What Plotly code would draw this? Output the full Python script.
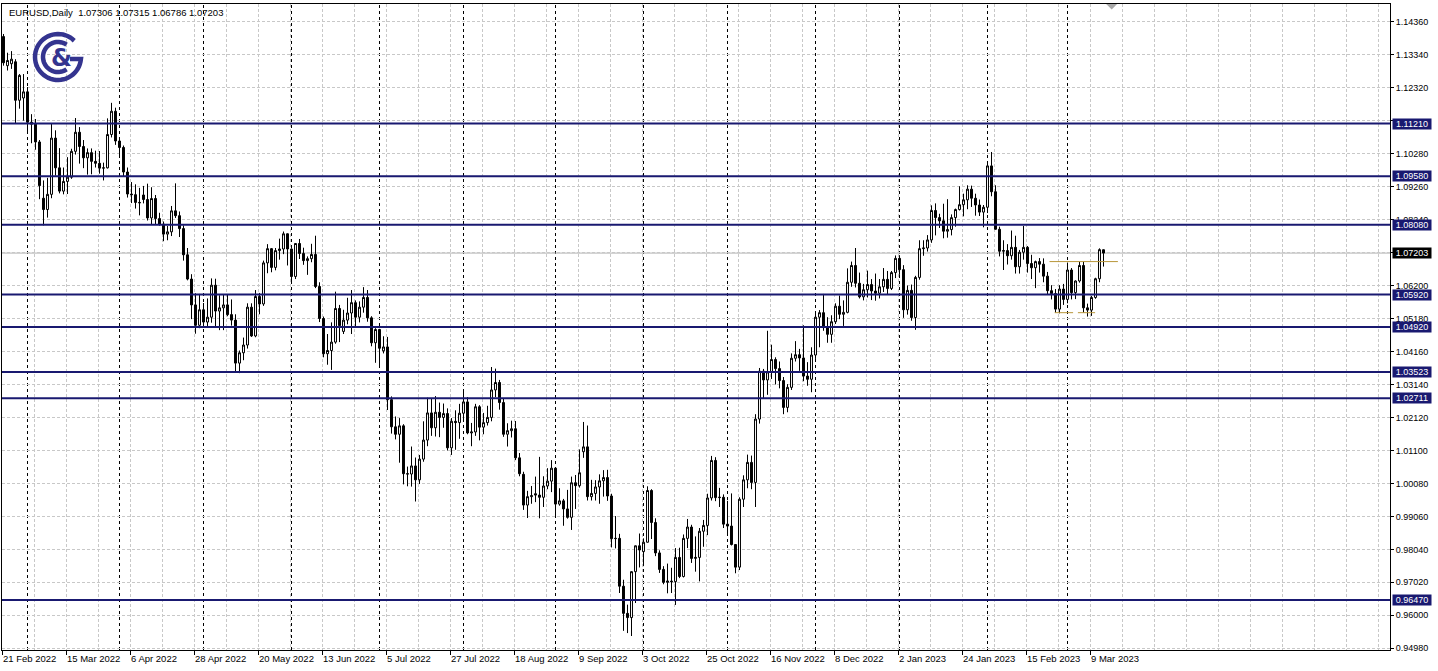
import math
import plotly.graph_objects as go

# ---------------- data ----------------
symbol_header = "EURUSD,Daily\u00a0\u00a01.07306 1.07315 1.06786 1.07203"

opens = [
    1.1390, 1.1300, 1.1306, 1.1312, 1.1193, 1.1200, 1.1219, 1.1125, 1.1119, 1.1064,
    1.0890, 1.0855, 1.0902, 1.1076, 1.0984, 1.0912, 1.0942, 1.0955, 1.1035, 1.1094,
    1.1050, 1.1015, 1.1031, 1.1004, 1.0998, 1.0983, 1.0984, 1.1087, 1.1159, 1.1067,
    1.1047, 1.0971, 1.0903, 1.0901, 1.0877, 1.0900, 1.0886, 1.0829, 1.0889, 1.0827,
    1.0810, 1.0779, 1.0786, 1.0851, 1.0836, 1.0796, 1.0715, 1.0640, 1.0560, 1.0497,
    1.0545, 1.0507, 1.0522, 1.0621, 1.0541, 1.0551, 1.0560, 1.0530, 1.0513, 1.0380,
    1.0412, 1.0436, 1.0553, 1.0464, 1.0586, 1.0563, 1.0690, 1.0734, 1.0676, 1.0728,
    1.0733, 1.0780, 1.0733, 1.0648, 1.0750, 1.0719, 1.0697, 1.0703, 1.0716, 1.0617,
    1.0518, 1.0409, 1.0419, 1.0445, 1.0549, 1.0478, 1.0513, 1.0535, 1.0567, 1.0522,
    1.0553, 1.0583, 1.0520, 1.0443, 1.0484, 1.0418, 1.0430, 1.0267, 1.0183, 1.0160,
    1.0186, 1.0038, 1.0037, 1.0062, 1.0019, 1.0083, 1.0142, 1.0226, 1.0180, 1.0228,
    1.0212, 1.0224, 1.0118, 1.0200, 1.0196, 1.0225, 1.0260, 1.0164, 1.0167, 1.0245,
    1.0182, 1.0196, 1.0212, 1.0297, 1.0320, 1.0258, 1.0160, 1.0171, 1.0177, 1.0087,
    1.0036, 0.9941, 0.9967, 0.9976, 0.9972, 0.9965, 1.0000, 1.0015, 1.0055, 0.9944,
    0.9954, 0.9929, 0.9903, 1.0010, 1.0001, 1.0106, 1.0121, 0.9967, 0.9977, 0.9997,
    1.0016, 1.0026, 0.9969, 0.9837, 0.9838, 0.9690, 0.9606, 0.9593, 0.9735, 0.9815,
    0.9797, 0.9826, 0.9986, 0.9887, 0.9793, 0.9742, 0.9702, 0.9706, 0.9704, 0.9779,
    0.9720, 0.9838, 0.9873, 0.9776, 0.9779, 0.9860, 0.9878, 0.9963, 1.0079, 0.9964,
    0.9965, 0.9882, 0.9876, 0.9819, 0.9749, 0.9959, 1.0019, 1.0073, 1.0011, 1.0207,
    1.0355, 1.0328, 1.0353, 1.0391, 1.0363, 1.0326, 1.0243, 1.0305, 1.0395, 1.0406,
    1.0396, 1.0340, 1.0330, 1.0405, 1.0522, 1.0536, 1.0490, 1.0469, 1.0508, 1.0556,
    1.0531, 1.0537, 1.0630, 1.0682, 1.0627, 1.0585, 1.0607, 1.0623, 1.0603, 1.0596,
    1.0616, 1.0639, 1.0611, 1.0660, 1.0704, 1.0669, 1.0545, 1.0605, 1.0521, 1.0645,
    1.0734, 1.0736, 1.0761, 1.0852, 1.0830, 1.0820, 1.0788, 1.0793, 1.0830, 1.0855,
    1.0870, 1.0885, 1.0918, 1.0890, 1.0869, 1.0847, 1.0862, 1.0990, 1.0910, 1.0794,
    1.0726, 1.0728, 1.0712, 1.0738, 1.0678, 1.0723, 1.0738, 1.0688, 1.0675, 1.0694,
    1.0686, 1.0649, 1.0604, 1.0595, 1.0547, 1.0609, 1.0577, 1.0668, 1.0598, 1.0634,
    1.0682, 1.0551, 1.0544, 1.0583, 1.0641, 1.07306,
]

highs = [
    1.1398, 1.1340, 1.1345, 1.1320, 1.1274, 1.1274, 1.1234, 1.1150, 1.1135, 1.1070,
    1.0945, 1.0953, 1.1121, 1.1100, 1.1045, 1.0985, 1.1017, 1.1043, 1.1138, 1.1110,
    1.1070, 1.1044, 1.1044, 1.1037, 1.1036, 1.1000, 1.1137, 1.1185, 1.1170, 1.1077,
    1.1053, 1.0985, 1.0940, 1.0933, 1.0922, 1.0928, 1.0935, 1.0924, 1.0900, 1.0845,
    1.0818, 1.0804, 1.0866, 1.0936, 1.0849, 1.0806, 1.0736, 1.0655, 1.0596, 1.0594,
    1.0566, 1.0580, 1.0642, 1.0641, 1.0590, 1.0592, 1.0593, 1.0577, 1.0531, 1.0419,
    1.0459, 1.0565, 1.0565, 1.0606, 1.0597, 1.0697, 1.0748, 1.0736, 1.0736, 1.0765,
    1.0787, 1.0781, 1.0735, 1.0751, 1.0764, 1.0737, 1.0710, 1.0749, 1.0774, 1.0630,
    1.0524, 1.0470, 1.0506, 1.0601, 1.0560, 1.0545, 1.0582, 1.0606, 1.0574, 1.0571,
    1.0615, 1.0606, 1.0525, 1.0488, 1.0486, 1.0463, 1.0461, 1.0277, 1.0215, 1.0210,
    1.0191, 1.0060, 1.0122, 1.0088, 1.0096, 1.0200, 1.0273, 1.0269, 1.0278, 1.0258,
    1.0255, 1.0240, 1.0210, 1.0234, 1.0254, 1.0294, 1.0275, 1.0195, 1.0254, 1.0250,
    1.0226, 1.0248, 1.0368, 1.0363, 1.0328, 1.0270, 1.0194, 1.0202, 1.0201, 1.0102,
    1.0044, 0.9985, 1.0000, 1.0029, 1.0090, 1.0030, 1.0055, 1.0080, 1.0055, 0.9993,
    0.9960, 0.9988, 1.0029, 1.0034, 1.0113, 1.0198, 1.0187, 1.0019, 1.0018, 1.0036,
    1.0049, 1.0050, 0.9976, 0.9907, 0.9852, 0.9710, 0.9633, 0.9736, 0.9816, 0.9853,
    0.9838, 0.9999, 0.9990, 0.9900, 0.9801, 0.9752, 0.9760, 0.9747, 0.9808, 0.9809,
    0.9850, 0.9898, 0.9880, 0.9844, 0.9870, 0.9895, 0.9976, 1.0093, 1.0089, 0.9994,
    0.9974, 0.9954, 0.9977, 0.9819, 0.9965, 1.0033, 1.0097, 1.0094, 1.0222, 1.0365,
    1.0362, 1.0480, 1.0437, 1.0398, 1.0385, 1.0337, 1.0315, 1.0410, 1.0448, 1.0424,
    1.0497, 1.0383, 1.0429, 1.0534, 1.0544, 1.0594, 1.0522, 1.0528, 1.0565, 1.0589,
    1.0574, 1.0673, 1.0694, 1.0736, 1.0660, 1.0625, 1.0666, 1.0640, 1.0657, 1.0640,
    1.0674, 1.0665, 1.0665, 1.0713, 1.0714, 1.0683, 1.0620, 1.0623, 1.0650, 1.0760,
    1.0760, 1.0776, 1.0868, 1.0874, 1.0842, 1.0873, 1.0887, 1.0840, 1.0858, 1.0927,
    1.0904, 1.0930, 1.0929, 1.0904, 1.0886, 1.0869, 1.1000, 1.1033, 1.0930, 1.0802,
    1.0760, 1.0748, 1.0790, 1.0774, 1.0730, 1.0804, 1.0742, 1.0715, 1.0697, 1.0705,
    1.0704, 1.0662, 1.0621, 1.0609, 1.0621, 1.0625, 1.0691, 1.0674, 1.0636, 1.0694,
    1.0694, 1.0564, 1.0588, 1.0644, 1.0735, 1.07315,
]

lows = [
    1.1300, 1.1285, 1.1290, 1.1120, 1.1167, 1.1130, 1.1095, 1.1060, 1.1040, 1.0887,
    1.0806, 1.0830, 1.0890, 1.0960, 1.0905, 1.0902, 1.0903, 1.0950, 1.1025, 1.0997,
    1.0983, 1.0963, 1.0964, 1.0985, 1.0966, 1.0945, 1.0982, 1.1078, 1.1055, 1.1020,
    1.0958, 1.0892, 1.0875, 1.0858, 1.0837, 1.0874, 1.0821, 1.0808, 1.0810, 1.0805,
    1.0757, 1.0760, 1.0773, 1.0829, 1.0770, 1.0697, 1.0636, 1.0516, 1.0471, 1.0488,
    1.0492, 1.0490, 1.0505, 1.0493, 1.0482, 1.0482, 1.0525, 1.0496, 1.0354, 1.0349,
    1.0389, 1.0425, 1.0461, 1.0460, 1.0531, 1.0557, 1.0658, 1.0661, 1.0667, 1.0700,
    1.0717, 1.0682, 1.0627, 1.0640, 1.0702, 1.0684, 1.0653, 1.0692, 1.0612, 1.0507,
    1.0398, 1.0375, 1.0359, 1.0440, 1.0445, 1.0470, 1.0500, 1.0470, 1.0490, 1.0506,
    1.0536, 1.0508, 1.0432, 1.0381, 1.0366, 1.0410, 1.0235, 1.0162, 1.0144, 1.0072,
    1.0005, 0.9999, 0.9998, 0.9952, 1.0006, 1.0075, 1.0123, 1.0155, 1.0153, 1.0151,
    1.0180, 1.0110, 1.0096, 1.0112, 1.0146, 1.0198, 1.0160, 1.0123, 1.0155, 1.0141,
    1.0160, 1.0187, 1.0200, 1.0275, 1.0236, 1.0152, 1.0122, 1.0150, 1.0080, 1.0030,
    0.9926, 0.9901, 0.9945, 0.9950, 0.9900, 0.9935, 0.9990, 0.9981, 0.9910, 0.9939,
    0.9877, 0.9899, 0.9864, 0.9929, 0.9995, 1.0087, 0.9955, 0.9955, 0.9955, 0.9945,
    0.9967, 0.9954, 0.9810, 0.9807, 0.9669, 0.9552, 0.9545, 0.9536, 0.9638, 0.9748,
    0.9752, 0.9825, 0.9836, 0.9783, 0.9731, 0.9696, 0.9668, 0.9669, 0.9632, 0.9715,
    0.9717, 0.9808, 0.9762, 0.9735, 0.9705, 0.9812, 0.9848, 0.9955, 0.9953, 0.9935,
    0.9870, 0.9852, 0.9816, 0.9730, 0.9740, 0.9935, 0.9993, 0.9990, 0.9935, 1.0193,
    1.0270, 1.0282, 1.0331, 1.0314, 1.0302, 1.0222, 1.0228, 1.0297, 1.0385, 1.0356,
    1.0324, 1.0310, 1.0290, 1.0393, 1.0429, 1.0480, 1.0443, 1.0443, 1.0501, 1.0516,
    1.0495, 1.0534, 1.0616, 1.0614, 1.0580, 1.0574, 1.0583, 1.0575, 1.0573, 1.0580,
    1.0600, 1.0593, 1.0606, 1.0643, 1.0653, 1.0520, 1.0530, 1.0511, 1.0483, 1.0638,
    1.0712, 1.0725, 1.0752, 1.0775, 1.0798, 1.0766, 1.0768, 1.0775, 1.0802, 1.0852,
    1.0834, 1.0856, 1.0863, 1.0836, 1.0835, 1.0800, 1.0844, 1.0896, 1.0793, 1.0710,
    1.0668, 1.0685, 1.0700, 1.0657, 1.0657, 1.0700, 1.0660, 1.0640, 1.0612, 1.0660,
    1.0630, 1.0593, 1.0577, 1.0536, 1.0534, 1.0560, 1.0565, 1.0577, 1.0578, 1.0629,
    1.0536, 1.0524, 1.0526, 1.0579, 1.0630, 1.06786,
]

closes = [
    1.1309, 1.1316, 1.1320, 1.1193, 1.1270, 1.1219, 1.1125, 1.1119, 1.1064, 1.0929,
    1.0855, 1.0902, 1.1076, 1.0984, 1.0912, 1.0942, 1.0955, 1.1035, 1.1094, 1.1050,
    1.1015, 1.1031, 1.1004, 1.0998, 1.0983, 1.0984, 1.1087, 1.1159, 1.1067, 1.1047,
    1.0971, 1.0903, 1.0901, 1.0877, 1.0876, 1.0886, 1.0829, 1.0889, 1.0827, 1.0810,
    1.0779, 1.0786, 1.0851, 1.0836, 1.0796, 1.0715, 1.0640, 1.0560, 1.0497, 1.0545,
    1.0507, 1.0522, 1.0621, 1.0541, 1.0551, 1.0560, 1.0530, 1.0513, 1.0380, 1.0412,
    1.0436, 1.0553, 1.0464, 1.0586, 1.0563, 1.0690, 1.0734, 1.0676, 1.0728, 1.0733,
    1.0780, 1.0733, 1.0648, 1.0750, 1.0719, 1.0697, 1.0703, 1.0716, 1.0617, 1.0518,
    1.0409, 1.0419, 1.0445, 1.0549, 1.0496, 1.0513, 1.0535, 1.0567, 1.0522, 1.0553,
    1.0583, 1.0520, 1.0443, 1.0484, 1.0426, 1.0430, 1.0267, 1.0183, 1.0160, 1.0186,
    1.0038, 1.0037, 1.0062, 1.0019, 1.0083, 1.0142, 1.0226, 1.0180, 1.0228, 1.0212,
    1.0224, 1.0118, 1.0200, 1.0196, 1.0225, 1.0260, 1.0164, 1.0167, 1.0245, 1.0182,
    1.0196, 1.0212, 1.0297, 1.0320, 1.0258, 1.0160, 1.0171, 1.0177, 1.0087, 1.0038,
    0.9941, 0.9967, 0.9970, 0.9972, 0.9965, 1.0000, 1.0015, 1.0055, 0.9944, 0.9954,
    0.9929, 0.9903, 1.0010, 1.0001, 1.0041, 1.0121, 0.9967, 0.9977, 0.9997, 1.0016,
    1.0026, 0.9969, 0.9837, 0.9838, 0.9690, 0.9606, 0.9593, 0.9735, 0.9815, 0.9802,
    0.9826, 0.9986, 0.9887, 0.9793, 0.9742, 0.9702, 0.9706, 0.9704, 0.9779, 0.9720,
    0.9838, 0.9873, 0.9776, 0.9779, 0.9860, 0.9878, 0.9963, 1.0079, 0.9964, 0.9965,
    0.9882, 0.9876, 0.9819, 0.9749, 0.9959, 1.0019, 1.0073, 1.0011, 1.0207, 1.0355,
    1.0328, 1.0353, 1.0391, 1.0363, 1.0326, 1.0243, 1.0305, 1.0395, 1.0406, 1.0396,
    1.0340, 1.0330, 1.0405, 1.0522, 1.0536, 1.0490, 1.0469, 1.0508, 1.0556, 1.0531,
    1.0537, 1.0630, 1.0682, 1.0627, 1.0585, 1.0607, 1.0623, 1.0603, 1.0596, 1.0616,
    1.0639, 1.0611, 1.0660, 1.0704, 1.0669, 1.0545, 1.0605, 1.0521, 1.0645, 1.0734,
    1.0736, 1.0761, 1.0852, 1.0830, 1.0820, 1.0788, 1.0793, 1.0830, 1.0855, 1.0870,
    1.0885, 1.0918, 1.0890, 1.0869, 1.0847, 1.0862, 1.0990, 1.0910, 1.0794, 1.0726,
    1.0728, 1.0712, 1.0738, 1.0678, 1.0723, 1.0738, 1.0688, 1.0675, 1.0694, 1.0686,
    1.0649, 1.0604, 1.0595, 1.0547, 1.0609, 1.0577, 1.0668, 1.0598, 1.0634, 1.0682,
    1.0551, 1.0544, 1.0583, 1.0641, 1.0731, 1.07203,
]

date_labels = [
    "21 Feb 2022", "15 Mar 2022", "6 Apr 2022", "28 Apr 2022", "20 May 2022",
    "13 Jun 2022", "5 Jul 2022", "27 Jul 2022", "18 Aug 2022", "9 Sep 2022",
    "3 Oct 2022", "25 Oct 2022", "16 Nov 2022", "8 Dec 2022", "2 Jan 2023",
    "24 Jan 2023", "15 Feb 2023", "9 Mar 2023",
]
label_every = 16                      # bars between date labels
month_start_bars = [6, 29, 50, 72, 94, 115, 138, 160, 181, 203, 224, 246, 266]

price_ticks = [1.14360, 1.13340, 1.12320, 1.11300, 1.10280, 1.09260, 1.08240,
               1.07220, 1.06200, 1.05180, 1.04160, 1.03140, 1.02120, 1.01100,
               1.00080, 0.99060, 0.98040, 0.97020, 0.96000, 0.94980]
# tick labels hidden behind price boxes in the reference
hidden_price_ticks = [1.11300, 1.07220]

level_prices = [1.11210, 1.09580, 1.08080, 1.05920, 1.04920, 1.03523, 1.02711, 0.96470]
last_price = 1.07203

# pattern (double bottom) marks: (bar_from, bar_to, price)
pattern_segments = [(261.5, 278.6, 1.0694), (262.8, 267.4, 1.0536), (268.6, 272.9, 1.0536)]

# ---------------- styling ----------------
NAVY = "#191970"
GRID = "#c8c8c8"
FONT = "Liberation Sans"
LOGO = "#34348f"

bars = list(range(len(closes)))

fig = go.Figure()
fig.add_trace(go.Candlestick(
    x=bars, open=opens, high=highs, low=lows, close=closes,
    increasing=dict(line=dict(color="black", width=1), fillcolor="white"),
    decreasing=dict(line=dict(color="black", width=1), fillcolor="black"),
    whiskerwidth=0, hoverinfo="skip", showlegend=False,
))

shapes = []
for b in month_start_bars:
    shapes.append(dict(type="line", xref="x", yref="paper", x0=b, x1=b, y0=0, y1=1,
                       line=dict(color="black", width=1, dash="3px,3px"), layer="below"))
shapes.append(dict(type="line", xref="paper", yref="y", x0=0, x1=1, y0=last_price, y1=last_price,
                   line=dict(color="#b4b4b4", width=1), layer="below"))
for p in level_prices:
    shapes.append(dict(type="line", xref="paper", yref="y", x0=0, x1=1, y0=p, y1=p,
                       line=dict(color=NAVY, width=2), layer="above"))
for b0, b1, p in pattern_segments:
    shapes.append(dict(type="line", xref="x", yref="y", x0=b0, x1=b1, y0=p, y1=p,
                       line=dict(color="#b8963a", width=1), layer="above"))

# chart-shift marker at top
shapes.append(dict(type="path", xref="paper", yref="paper",
                   path="M 0.7955,1 L 0.8034,1 L 0.7995,0.9915 Z",
                   fillcolor="#a8a8a8", line=dict(width=0)))


def arc(cx, cy, r, a0, a1, n=48):
    pts = []
    for k in range(n + 1):
        a = math.radians(a0 + (a1 - a0) * k / n)
        pts.append((cx + r * math.cos(a), cy + r * math.sin(a)))
    return "M " + " L ".join(f"{x:.2f},{y:.2f}" for x, y in pts)


cx, cy = 56, -53
outer = arc(cx, cy, 23, 45, 355) + f" L {cx + 12:.2f},{cy - 2:.2f}"
inner = arc(cx, cy, 15, 55, 305)
for pth in (outer, inner):
    shapes.append(dict(type="path", xref="paper", yref="paper", xsizemode="pixel", ysizemode="pixel",
                       xanchor=0, yanchor=1, path=pth, line=dict(color=LOGO, width=4.5)))

annotations = []
annotations.append(dict(xref="paper", yref="paper", x=0.0036, y=0.9876, xanchor="left", yanchor="middle",
                        text=symbol_header, showarrow=False,
                        font=dict(family=FONT, size=9.5, color="black")))
annotations.append(dict(xref="paper", yref="paper", x=(61 - 2) / 1388, y=1 - (58 - 4) / 646,
                        xanchor="center", yanchor="middle", text="<b>&</b>", showarrow=False,
                        font=dict(family="DejaVu Sans", size=24, color=LOGO)))
for p in level_prices:
    annotations.append(dict(xref="paper", yref="y", x=1, y=p, xanchor="left", yanchor="middle",
                            xshift=2, text=f"{p:.5f}", showarrow=False, bgcolor=NAVY,
                            width=38, height=10, borderpad=0,
                            font=dict(family=FONT, size=9, color="white")))
annotations.append(dict(xref="paper", yref="y", x=1, y=last_price, xanchor="left", yanchor="middle",
                        xshift=2, text=f"{last_price:.5f}", showarrow=False, bgcolor="black",
                        width=38, height=10, borderpad=0,
                        font=dict(family=FONT, size=9, color="white")))

x_tickvals = [label_every * k - 0.375 for k in range(len(date_labels))]
y_ticktext = ["" if v in hidden_price_ticks else f"{v:.5f}" for v in price_ticks]

fig.update_layout(
    width=1438, height=671,
    margin=dict(l=2, r=48, t=4, b=21),
    paper_bgcolor="white", plot_bgcolor="white",
    showlegend=False,
    shapes=shapes, annotations=annotations,
    xaxis=dict(
        range=[-0.375, 346.625], rangeslider=dict(visible=False),
        tickmode="array", tickvals=x_tickvals, ticktext=date_labels,
        ticklabelposition="outside right",
        ticks="outside", ticklen=4, tickcolor="black",
        tickfont=dict(family=FONT, size=9.5, color="black"),
        showgrid=True, gridcolor=GRID, griddash="3px,2px", gridwidth=1,
        minor=dict(tickmode="linear", tick0=-0.375, dtick=8, showgrid=True,
                   gridcolor=GRID, griddash="3px,2px", gridwidth=1, ticks=""),
        showline=True, linecolor="black", linewidth=1, mirror=True, zeroline=False,
    ),
    yaxis=dict(
        side="right", range=[0.94927, 1.14907],
        tickmode="array", tickvals=price_ticks, ticktext=y_ticktext,
        ticks="outside", ticklen=3, tickcolor="black",
        tickfont=dict(family=FONT, size=9, color="black"),
        showgrid=True, gridcolor=GRID, griddash="3px,2px", gridwidth=1,
        showline=True, linecolor="black", linewidth=1, mirror=True, zeroline=False,
    ),
)

fig.write_html(
    "out.html",
    config={"displayModeBar": False},
    post_script="document.body.style.margin='0';document.body.style.padding='0';"
                "document.body.style.overflow='hidden';",
)
